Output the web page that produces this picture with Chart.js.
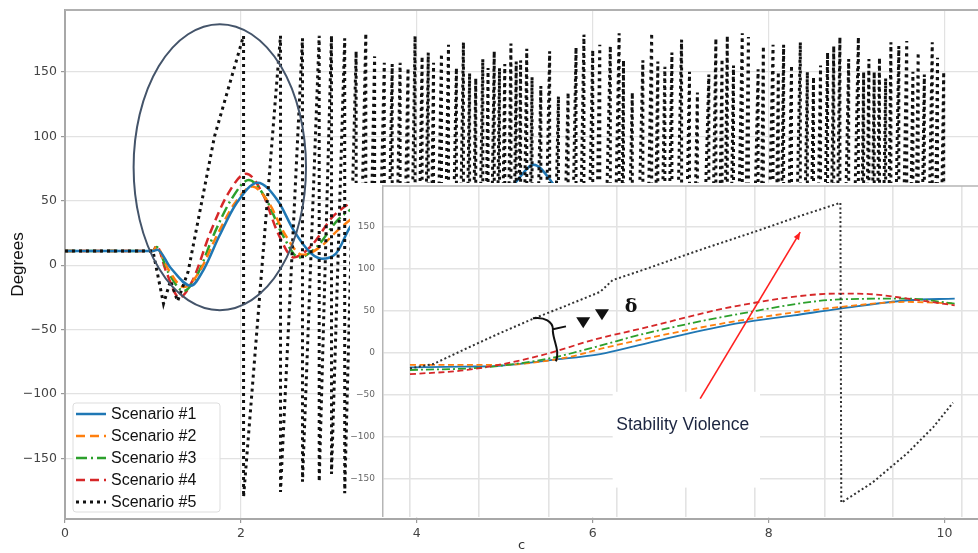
<!DOCTYPE html>
<html>
<head>
<meta charset="utf-8">
<script src="https://cdn.jsdelivr.net/npm/chart.js@4.4.1/dist/chart.umd.min.js"></script>
<style>
  html, body { margin: 0; padding: 0; background: #fff; }
  #wrap { position: relative; width: 978px; height: 553px; overflow: hidden; }
  #mainBox { position: absolute; left: 0; top: 0; width: 978px; height: 553px; }
  #insetBox { position: absolute; left: 350px; top: 183px; width: 628px; height: 334px; }
</style>
</head>
<body>
<div id="wrap">
  <div id="mainBox"><canvas id="mainChart"></canvas></div>
  <div id="insetBox"><canvas id="insetChart"></canvas></div>
</div>
<script>
// ---- main plot, scenarios 1-4 (x = time, y = degrees) ----
const s1X = [0, 1.0, 1.05, 1.2, 1.43, 1.58, 1.75, 1.95, 2.19, 2.42, 2.6, 2.8, 2.92, 3.08, 3.3, 4.4, 5.12, 5.33, 5.54, 6.0];
const s1Y = [11, 11, 12, -2, -16, -3, 22, 48, 64, 50, 27, 9, 5, 9, 33, 12, 64, 78, 64, 15];
const s2X = [0, 1.0, 1.04, 1.18, 1.35, 1.52, 1.72, 1.93, 2.13, 2.32, 2.5, 2.7, 2.9, 3.1, 3.35];
const s2Y = [11, 11, 14, -4, -17, -6, 22, 48, 61, 48, 24, 8, 14, 27, 41];
const s3X = [0, 1.0, 1.04, 1.17, 1.35, 1.5, 1.7, 1.9, 2.09, 2.28, 2.47, 2.66, 2.86, 3.1, 3.35];
const s3Y = [11, 11, 14, -5, -20, -8, 25, 52, 66, 52, 24, 6, 14, 35, 48];
const s4X = [0, 1.0, 1.04, 1.15, 1.3, 1.45, 1.65, 1.85, 2.06, 2.25, 2.42, 2.6, 2.8, 3.05, 3.35];
const s4Y = [11, 11, 15, -5, -25, -12, 25, 55, 71, 55, 25, 6, 15, 38, 53];

// scenario 5 (wrapping angle): start, then teeth (peak then drop to trough)
const s5StartX = [0, 1.0, 1.12, 1.2, 1.28, 1.4, 1.7];
const s5StartY = [11, 11, -30, -12, -28, -5, 100];
const s5PeakX = [2.03, 2.45, 2.70, 2.89, 3.03, 3.18, 3.31, 3.42, 3.52, 3.63, 3.72, 3.81, 3.90, 3.98,
  4.06, 4.13, 4.19, 4.28, 4.36, 4.45, 4.53, 4.60, 4.67, 4.75, 4.81, 4.88, 4.94,
  5.00, 5.07, 5.13, 5.18, 5.25, 5.31, 5.41, 5.51, 5.61, 5.72, 5.81, 5.90,
  6.00, 6.08, 6.20, 6.30, 6.35, 6.45, 6.57, 6.67, 6.74, 6.82, 6.90,
  7.01, 7.10, 7.19, 7.32, 7.40, 7.47, 7.53, 7.60, 7.70, 7.77, 7.88, 7.94,
  8.05, 8.11, 8.17, 8.26, 8.36, 8.44, 8.51, 8.59, 8.67, 8.74, 8.81, 8.91,
  9.02, 9.08, 9.14, 9.20, 9.26, 9.33, 9.39, 9.48, 9.57, 9.64, 9.70, 9.77, 9.86, 9.92, 9.99];
const s5PeakY = [178, 178, 176, 178, 178, 176, 166, 180, 162, 157, 156, 157, 153, 178,
  162, 165, 157, 164, 171, 153, 173, 149, 145, 160, 153, 166, 153,
  156, 172, 158, 159, 168, 146, 139, 166, 131, 134, 169, 179,
  167, 171, 170, 180, 159, 134, 159, 180, 158, 154, 165,
  175, 150, 134, 148, 176, 160, 178, 155, 180, 177, 152, 170,
  171, 150, 171, 155, 173, 150, 146, 155, 165, 170, 177, 160,
  177, 150, 160, 150, 161, 145, 173, 170, 174, 150, 165, 148, 173, 161, 150];
const s5TroughY = [-180, -176, -168, -168, -162, -177, -170, -175, -172, -178, -174, -170, -176, -173,
  -175, -178, -172, -176, -174, -170, -177, -175, -172, -178, -174, -176, -171,
  -175, -178, -172, -176, -174, -170, -177, -175, -172, -178, -174, -176,
  -175, -178, -172, -176, -174, -170, -177, -175, -172, -178, -174,
  -175, -178, -172, -176, -174, -170, -177, -175, -172, -178, -174, -176,
  -175, -178, -172, -176, -174, -170, -177, -175, -172, -178, -174, -176,
  -175, -178, -172, -176, -174, -170, -177, -175, -172, -178, -174, -176, -175, -172, -176];

// ---- inset (zoom of 4 to 10 s) ----
const in1X = [4.0, 4.6, 5.0, 5.6, 6.13, 6.58, 7.1, 7.7, 8.3, 8.82, 9.57, 10.1];
const in1Y = [-18, -17, -16, -9, -2, 9, 22, 35, 44, 52, 62, 64];
const in2X = [4.0, 4.6, 5.0, 5.76, 6.13, 6.58, 7.7, 8.82, 9.57, 10.1];
const in2Y = [-15, -15, -15, -6, 4, 15, 38, 54, 60, 58];
const in3X = [4.0, 4.82, 5.57, 6.13, 6.58, 7.7, 8.82, 9.57, 10.1];
const in3Y = [-21, -18, -7, 8, 21, 46, 63, 64, 58];
const in4X = [4.0, 4.64, 5.38, 6.13, 6.58, 7.7, 8.82, 9.2, 9.57, 10.1];
const in4Y = [-26, -21, -6, 17, 28, 56, 70, 69, 64, 56];
const in5X = [4.0, 4.26, 4.64, 5.01, 5.38, 5.76, 6.13, 6.27, 6.58, 7.25, 7.9, 8.36, 8.82, 8.83, 9.18, 9.57, 9.86, 10.08];
const in5Y = [-19, -14, 5, 23, 40, 56, 72, 86, 97, 122, 145, 162, 178, -179, -155, -120, -89, -60];
const insetGridX = [4.0, 4.77, 5.55, 6.32, 7.09, 7.86, 8.64, 9.41, 10.18];

const seriesNames = ['Scenario #1', 'Scenario #2', 'Scenario #3', 'Scenario #4', 'Scenario #5'];
const colors = ['#1f77b4', '#ff7f0e', '#2ca02c', '#d62728', '#111111'];
const dashes = [[], [9, 5], [11, 4, 2, 4], [9, 5], [3, 4]];

function pts(xs, ys) {
    return xs.map(function(x, i) { return {x: x, y: ys[i]}; });
}

function minusFmt(v) {
    return v < 0 ? '\u2212' + Math.abs(v) : '' + v;
}

// build the sawtooth of scenario 5
let s5Data = pts(s5StartX, s5StartY);
for (let i = 0; i < s5PeakX.length; i++) {
    s5Data.push({x: s5PeakX[i], y: s5PeakY[i]});
    s5Data.push({x: s5PeakX[i], y: s5TroughY[i]});
}

const mainSets = [pts(s1X, s1Y), pts(s2X, s2Y), pts(s3X, s3Y), pts(s4X, s4Y), s5Data];

// legend box + ellipse + top frame on main chart
const mainDeco = {
    id: 'mainDeco',
    afterDraw: function(chart) {
        const ctx = chart.ctx;
        const xs = chart.scales.x, ys = chart.scales.y;
        const a = chart.chartArea;
        ctx.save();
        // top frame
        ctx.strokeStyle = '#b0b0b0';
        ctx.lineWidth = 2;
        ctx.beginPath();
        ctx.moveTo(a.left, a.top);
        ctx.lineTo(a.right, a.top);
        ctx.stroke();
        // ellipse
        const cx = xs.getPixelForValue(1.76), cy = ys.getPixelForValue(76);
        const rx = xs.getPixelForValue(1.76 + 0.98) - cx;
        const ry = cy - ys.getPixelForValue(76 + 111);
        ctx.strokeStyle = '#44546a';
        ctx.lineWidth = 2;
        ctx.beginPath();
        ctx.ellipse(cx, cy, rx, ry, 0, 0, Math.PI * 2);
        ctx.stroke();
        // legend
        const lx = 73, ly = 403, lw = 147, lh = 109;
        ctx.fillStyle = 'rgba(255,255,255,0.85)';
        ctx.strokeStyle = '#dddddd';
        ctx.lineWidth = 1;
        ctx.beginPath();
        ctx.roundRect(lx, ly, lw, lh, 3);
        ctx.fill();
        ctx.stroke();
        ctx.font = '16px "Liberation Sans", Arial, sans-serif';
        ctx.textBaseline = 'middle';
        for (let i = 0; i < seriesNames.length; i++) {
            const yy = ly + 11 + i * 22;
            ctx.strokeStyle = colors[i];
            ctx.lineWidth = i === 4 ? 3 : 2.5;
            ctx.setLineDash(i === 4 ? [3, 4] : dashes[i]);
            ctx.beginPath();
            ctx.moveTo(lx + 3, yy);
            ctx.lineTo(lx + 33, yy);
            ctx.stroke();
            ctx.setLineDash([]);
            ctx.fillStyle = '#111';
            ctx.fillText(seriesNames[i], lx + 38, yy + 1);
        }
        ctx.restore();
    }
};

const mainChart = new Chart(document.getElementById('mainChart'), {
    type: 'line',
    data: {
        datasets: mainSets.map(function(d, i) {
            return {
                label: seriesNames[i],
                data: d,
                borderColor: colors[i],
                borderWidth: i === 4 ? 3 : 2.5,
                borderDash: dashes[i],
                pointRadius: 0,
                fill: false,
                cubicInterpolationMode: i === 4 ? 'default' : 'monotone',
                tension: 0,
                order: i === 4 ? 0 : i + 1
            };
        })
    },
    options: {
        responsive: true,
        maintainAspectRatio: false,
        animation: false,
        layout: { padding: { top: 10, right: 0, bottom: 0, left: 0 } },
        plugins: { legend: { display: false }, tooltip: { enabled: false } },
        scales: {
            x: {
                type: 'linear',
                min: 0,
                max: 10.38,
                afterFit: function(s) { s.height = 34; s.paddingLeft = 0; s.paddingRight = 0; },
                ticks: { stepSize: 2, includeBounds: false, color: '#444', padding: 3,
                         font: { family: 'DejaVu Sans', size: 12.5 } },
                grid: { color: '#e2e2e2', lineWidth: 1.2, tickLength: 4, tickColor: '#999' },
                border: { color: '#a8a8a8', width: 2 },
                title: { display: true, text: 'c', color: '#333', padding: { top: 0, bottom: 0 },
                         font: { family: 'DejaVu Sans', size: 13 } }
            },
            y: {
                min: -197,
                max: 198,
                afterFit: function(s) { s.width = 65; s.paddingTop = 0; s.paddingBottom = 0; },
                ticks: { stepSize: 50, includeBounds: false, color: '#444', padding: 4,
                         font: { family: 'DejaVu Sans', size: 12.5 }, callback: minusFmt },
                grid: { color: '#e2e2e2', lineWidth: 1.2, tickLength: 4, tickColor: '#999' },
                border: { color: '#a8a8a8', width: 2 },
                title: { display: true, text: 'Degrees', color: '#111', padding: { top: 8, bottom: 0 },
                         font: { family: 'Liberation Sans', size: 17 } }
            }
        }
    },
    plugins: [mainDeco]
});

// ---- inset chart ----
const insetSets = [pts(in1X, in1Y), pts(in2X, in2Y), pts(in3X, in3Y), pts(in4X, in4Y), pts(in5X, in5Y)];

const insetDeco = {
    id: 'insetDeco',
    beforeDraw: function(chart) {
        const ctx = chart.ctx;
        ctx.save();
        ctx.fillStyle = '#ffffff';
        ctx.fillRect(0, 0, chart.width, chart.height);
        ctx.restore();
    },
    afterDraw: function(chart) {
        const ctx = chart.ctx;
        const xs = chart.scales.x, ys = chart.scales.y;
        const a = chart.chartArea;
        function P(x, y) { return [xs.getPixelForValue(x), ys.getPixelForValue(y)]; }
        ctx.save();
        // top frame
        ctx.strokeStyle = '#b5b5b5';
        ctx.lineWidth = 1.5;
        ctx.beginPath();
        ctx.moveTo(a.left, a.top);
        ctx.lineTo(a.right, a.top);
        ctx.stroke();
        // white label box
        const b1 = P(6.27, -47), b2 = P(7.92, -161);
        ctx.fillStyle = '#ffffff';
        ctx.fillRect(b1[0], b1[1], b2[0] - b1[0], b2[1] - b1[1]);
        ctx.fillStyle = '#1c2540';
        ctx.font = '17.5px "Liberation Sans", Arial, sans-serif';
        ctx.textBaseline = 'middle';
        const t = P(6.31, -87);
        ctx.fillText('Stability Violence', t[0], t[1]);
        // red arrow
        const r0 = P(7.25, -55), r1 = P(8.37, 143);
        ctx.strokeStyle = '#ff2020';
        ctx.fillStyle = '#ff2020';
        ctx.lineWidth = 1.6;
        ctx.beginPath();
        ctx.moveTo(r0[0], r0[1]);
        ctx.lineTo(r1[0], r1[1]);
        ctx.stroke();
        const ang = Math.atan2(r1[1] - r0[1], r1[0] - r0[0]);
        ctx.beginPath();
        ctx.moveTo(r1[0], r1[1]);
        ctx.lineTo(r1[0] - 8 * Math.cos(ang - 0.4), r1[1] - 8 * Math.sin(ang - 0.4));
        ctx.lineTo(r1[0] - 8 * Math.cos(ang + 0.4), r1[1] - 8 * Math.sin(ang + 0.4));
        ctx.closePath();
        ctx.fill();
        // brace
        const p0 = P(5.377, 40.5), c1 = P(5.51, 42.8), c2 = P(5.60, 36), p1 = P(5.601, 27.4);
        const nub = P(5.747, 30.9);
        const q0 = P(5.60, 25), q1 = P(5.61, 12), q2 = P(5.68, 2.4), q3 = P(5.635, -10.7);
        ctx.strokeStyle = '#111';
        ctx.lineWidth = 2;
        ctx.beginPath();
        ctx.moveTo(p0[0], p0[1]);
        ctx.bezierCurveTo(c1[0], c1[1], c2[0], c2[1], p1[0], p1[1]);
        ctx.lineTo(nub[0], nub[1]);
        ctx.moveTo(p1[0], p1[1]);
        ctx.lineTo(q0[0], q0[1]);
        ctx.bezierCurveTo(q1[0], q1[1], q2[0], q2[1], q3[0], q3[1]);
        ctx.stroke();
        // two triangles
        ctx.fillStyle = '#111';
        [P(5.94, 35.7), P(6.15, 45.2)].forEach(function(c) {
            ctx.beginPath();
            ctx.moveTo(c[0] - 7, c[1] - 5);
            ctx.lineTo(c[0] + 7, c[1] - 5);
            ctx.lineTo(c[0], c[1] + 6);
            ctx.closePath();
            ctx.fill();
        });
        // delta
        const d = P(6.46, 53.6);
        ctx.font = 'bold 19px "DejaVu Serif", serif';
        ctx.fillText('\u03b4', d[0] - 5, d[1]);
        ctx.restore();
    }
};

const insetChart = new Chart(document.getElementById('insetChart'), {
    type: 'line',
    data: {
        datasets: insetSets.map(function(d, i) {
            return {
                label: seriesNames[i],
                data: d,
                borderColor: i === 4 ? '#333' : colors[i],
                borderWidth: i === 4 ? 2 : 1.8,
                borderDash: i === 4 ? [2, 2.5] : (i === 0 ? [] : (i === 2 ? [8, 3, 2, 3] : [6, 3.5])),
                pointRadius: 0,
                fill: false,
                cubicInterpolationMode: i === 4 ? 'default' : 'monotone',
                tension: 0,
                order: i === 4 ? 0 : 5 - i
            };
        })
    },
    options: {
        responsive: true,
        maintainAspectRatio: false,
        animation: false,
        layout: { padding: { top: 3, right: 0, bottom: 0, left: 0 } },
        plugins: { legend: { display: false }, tooltip: { enabled: false } },
        scales: {
            x: {
                type: 'linear',
                min: 3.698,
                max: 10.361,
                afterBuildTicks: function(s) { s.ticks = insetGridX.map(function(v) { return {value: v}; }); },
                afterFit: function(s) { s.height = 0; s.paddingLeft = 0; s.paddingRight = 0; },
                ticks: { display: false },
                grid: { color: '#e3e3e3', lineWidth: 1.6, drawTicks: false },
                border: { display: false }
            },
            y: {
                min: -196,
                max: 198,
                afterFit: function(s) { s.width = 33; s.paddingTop = 0; s.paddingBottom = 0; },
                ticks: { stepSize: 50, includeBounds: false, color: '#666', padding: 8,
                         font: { family: 'DejaVu Sans', size: 9 }, callback: minusFmt },
                grid: { color: '#e3e3e3', lineWidth: 1.6, drawTicks: false },
                border: { color: '#b5b5b5', width: 1.5 }
            }
        }
    },
    plugins: [insetDeco]
});
</script>
</body>
</html>
